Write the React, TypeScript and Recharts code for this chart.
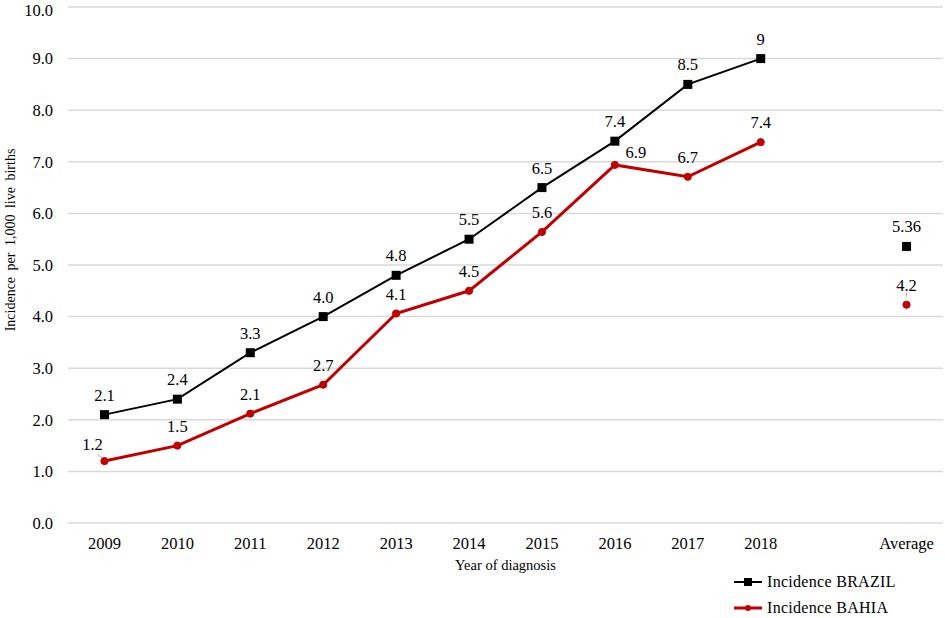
import { LineChart, Line, XAxis, YAxis, CartesianGrid, LabelList, Label } from 'recharts'

// categories: 2009..2018, an empty gap, then the average column
const categories = ['2009', '2010', '2011', '2012', '2013', '2014', '2015', '2016', '2017', '2018', '', 'Average']
const brazil = [2.1, 2.4, 3.3, 4.0, 4.8, 5.5, 6.5, 7.4, 8.5, 9.0, null, 5.36]
const bahia = [1.2, 1.5, 2.12, 2.68, 4.06, 4.5, 5.64, 6.94, 6.71, 7.38, null, 4.23]
const brazilLabels = ['2.1', '2.4', '3.3', '4.0', '4.8', '5.5', '6.5', '7.4', '8.5', '9', '', '5.36']
const bahiaLabels = ['1.2', '1.5', '2.1', '2.7', '4.1', '4.5', '5.6', '6.9', '6.7', '7.4', '', '4.2']
const yTicks = [0, 1, 2, 3, 4, 5, 6, 7, 8, 9, 10]
const seriesNames = ['Incidence BRAZIL', 'Incidence BAHIA']

const RED = '#C00000'
const FONT = 'Liberation Serif, Tinos, Times New Roman, DejaVu Serif, Noto Serif, serif'

const data = categories.map((c, i) => ({
  year: c,
  brazil: brazil[i],
  bahia: bahia[i],
  brazilLabel: brazilLabels[i],
  bahiaLabel: bahiaLabels[i],
}))

const SquareDot = (props: any) => {
  const { cx, cy, index } = props
  if (cx == null || cy == null || props.value == null) return <g key={index} />
  return <rect key={index} x={cx - 4.5} y={cy - 4.5} width={9} height={9} fill="#000" />
}

const RoundDot = (props: any) => {
  const { cx, cy, index } = props
  if (cx == null || cy == null || props.value == null) return <g key={index} />
  return <circle key={index} cx={cx} cy={cy} r={3.6} fill={RED} stroke={RED} />
}

const brazilLabel = (props: any) => {
  const { x, y, value } = props
  if (!value) return null
  return (
    <text x={x} y={y - 14} textAnchor="middle" fontSize={16.5} style={{ fontFamily: FONT }} fill="#000">
      {value}
    </text>
  )
}

const bahiaLabel = (props: any) => {
  const { x, y, value, index } = props
  if (!value) return null
  let dx = 0
  let dy = -14
  let leader: any = null
  if (index === 0) {
    dx = -12
    dy = -11
    leader = <line x1={x - 7} y1={y - 7} x2={x - 2} y2={y - 3} stroke="#999" strokeWidth={0.8} />
  } else if (index === 7) {
    dx = 21
    dy = -7
  } else if (index === 11) {
    leader = <line x1={x} y1={y - 12} x2={x} y2={y - 8} stroke="#999" strokeWidth={0.8} />
  }
  return (
    <g>
      {leader}
      <text x={x + dx} y={y + dy} textAnchor="middle" fontSize={16.5} style={{ fontFamily: FONT }} fill="#000">
        {value}
      </text>
    </g>
  )
}

const yAxisTitle = () => {
  const cx = 15
  const cy = 240
  return (
    <text
      x={cx}
      y={cy}
      transform={`rotate(-90, ${cx}, ${cy})`}
      textAnchor="middle"
      fontSize={14}
      fill="#000"
      style={{ fontFamily: FONT, wordSpacing: 3 }}
    >
      Incidence per 1,000 live births
    </text>
  )
}

export default function App() {
  return (
    <div style={{ position: 'absolute', left: 0, top: 0, width: 945, height: 618, background: '#fff', fontFamily: FONT }}>
      <LineChart
        width={945}
        height={618}
        data={data}
        margin={{ top: 7, right: 2, bottom: 0, left: 0 }}
        style={{ fontFamily: FONT }}
      >
        <CartesianGrid vertical={false} stroke="#d9d9d9" strokeWidth={1.5} />
        <XAxis
          dataKey="year"
          scale="band"
          height={95}
          axisLine={false}
          tickLine={false}
          tickSize={0}
          tickMargin={14}
          interval={0}
          tick={{ fill: '#000', fontSize: 16.5, style: { fontFamily: FONT } }}
        >
          <Label
            value="Year of diagnosis"
            position="insideTop"
            offset={37}
            style={{ fill: '#000', fontSize: 14.5, fontFamily: FONT }}
          />
        </XAxis>
        <YAxis
          width={68}
          domain={[0, 10]}
          ticks={yTicks}
          axisLine={false}
          tickLine={false}
          tickSize={0}
          tickMargin={15}
          tickFormatter={(v: number) => v.toFixed(1)}
          tick={{ fill: '#000', fontSize: 16.5, style: { fontFamily: FONT } }}
          label={yAxisTitle}
        />
        <Line
          dataKey="brazil"
          name={seriesNames[0]}
          stroke="#000"
          strokeWidth={2}
          dot={SquareDot}
          activeDot={false}
          isAnimationActive={false}
        >
          <LabelList dataKey="brazilLabel" content={brazilLabel} />
        </Line>
        <Line
          dataKey="bahia"
          name={seriesNames[1]}
          stroke={RED}
          strokeWidth={3}
          dot={RoundDot}
          activeDot={false}
          isAnimationActive={false}
        >
          <LabelList dataKey="bahiaLabel" content={bahiaLabel} />
        </Line>
      </LineChart>
      {/* legend, bottom right */}
      {seriesNames.map((name, i) => (
        <div
          key={name}
          style={{
            position: 'absolute',
            left: 733,
            top: 574 + i * 26,
            height: 16,
            lineHeight: '16px',
            display: 'flex',
            alignItems: 'center',
            fontSize: 16,
            color: '#000',
            whiteSpace: 'nowrap',
          }}
        >
          <svg width={32} height={14} style={{ marginRight: 2 }}>
            <line x1={1} y1={7} x2={29} y2={7} stroke={i === 0 ? '#000' : RED} strokeWidth={i === 0 ? 2 : 3} />
            {i === 0 ? (
              <rect x={11} y={3} width={8} height={8} fill="#000" />
            ) : (
              <circle cx={15} cy={7} r={3} fill={RED} />
            )}
          </svg>
          <span style={{ letterSpacing: 0.3 }}>{name}</span>
        </div>
      ))}
    </div>
  )
}
